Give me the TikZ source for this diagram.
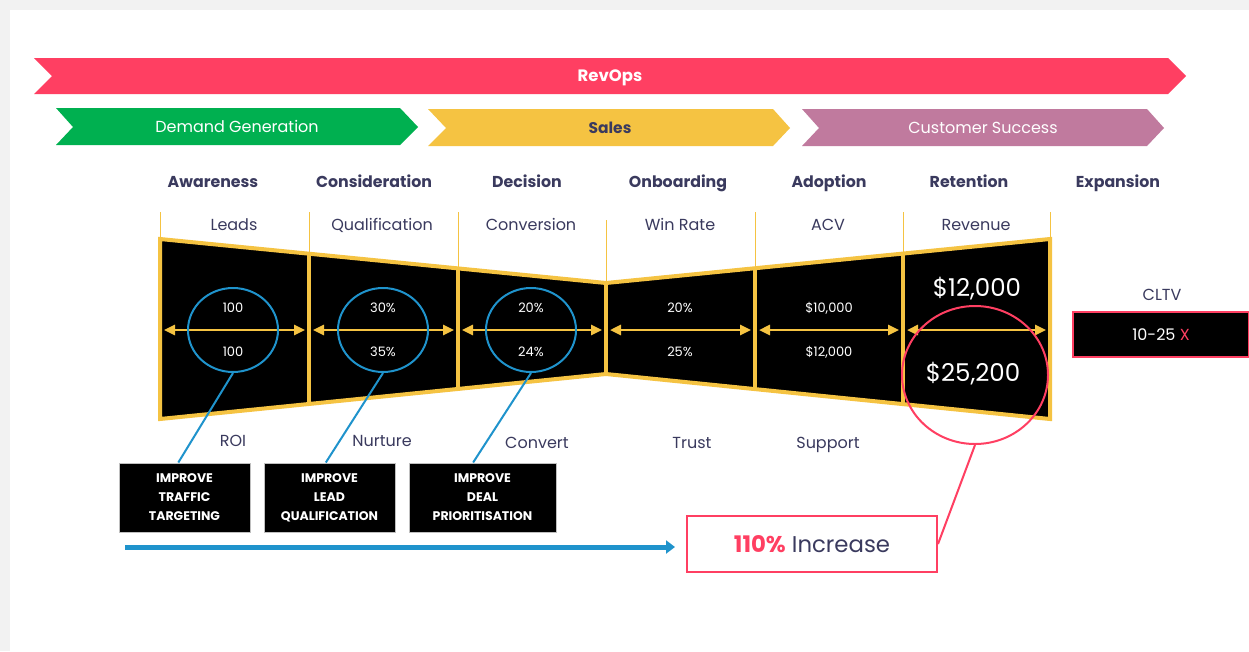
\documentclass[tikz,border=0pt]{standalone}
\usepackage{fontspec}
\setmainfont{Poppins}
\usetikzlibrary{arrows.meta,positioning,shapes.geometric,calc}
\definecolor{navy}{HTML}{3A3A5E}
\definecolor{revpink}{HTML}{FF3F62}
\definecolor{demgreen}{HTML}{00B050}
\definecolor{salesyellow}{HTML}{F5C342}
\definecolor{csmauve}{HTML}{C07A9E}
\definecolor{ringblue}{HTML}{1F93CC}
\definecolor{bggray}{HTML}{F2F2F2}

\begin{document}
\begin{tikzpicture}[x=1pt,y=-1pt,
  banner/.style={font=\fontsize{16}{18}\selectfont,text=white,text height=13.6pt,text depth=2.4pt},
  stage/.style={font=\fontsize{15.8}{18}\selectfont\bfseries,text=navy,text height=13.4pt,text depth=2.4pt},
  metric/.style={font=\fontsize{16}{18}\selectfont,text=navy,text height=13.6pt,text depth=2.4pt},
  val/.style={text=white,font=\fontsize{13}{15}\selectfont,text height=11pt,text depth=2pt},
  big val/.style={text=white,font=\fontsize{24.5}{27}\selectfont,text height=20.8pt,text depth=3.7pt},
  ring/.style={ellipse,draw=ringblue,line width=2pt,minimum width=90pt,minimum height=84pt,inner sep=0pt},
  tip box/.style={fill=black,draw=gray!50,line width=1pt,minimum width=131pt,minimum height=69pt,align=center,text=white,font=\fontsize{12.5}{19}\selectfont\bfseries},
  span/.style={{Triangle[length=11pt,width=10pt]}-{Triangle[length=11pt,width=10pt]},draw=salesyellow,line width=2.5pt},
  cell/.style={draw=salesyellow,line width=4pt},
  guide/.style={draw=salesyellow,line width=1pt}]
\useasboundingbox (0,0) rectangle (1249,651);
\fill[bggray] (0,0) rectangle (1249,651);
\fill[white] (10,10) rectangle (1249,651);

% banners
\fill[revpink] (34,58) -- (1168,58) -- (1186,76) -- (1168,94) -- (34,94) -- (52,76) -- cycle;
\fill[demgreen] (56,108) -- (400,108) -- (418,127) -- (400,145) -- (56,145) -- (73,127) -- cycle;
\fill[salesyellow] (428,109) -- (773,109) -- (790,128) -- (773,146) -- (428,146) -- (446,128) -- cycle;
\fill[csmauve] (802,109) -- (1147,109) -- (1164,128) -- (1147,146) -- (802,146) -- (819,128) -- cycle;
\node[banner,font=\fontsize{16.5}{18}\selectfont\bfseries] (revops) at (610,76) {RevOps};
\node[banner] (demand) at (237,127) {Demand Generation};
\node[banner,text=navy,font=\fontsize{15.5}{18}\selectfont\bfseries] (sales) at (610,128) {Sales};
\node[banner] (success) at (983,128) {Customer Success};

% stages
\node[stage] (awareness) at (213,182) {Awareness};
\node[stage] (consideration) at (374,182) {Consideration};
\node[stage] (decision) at (527,182) {Decision};
\node[stage] (onboarding) at (678,182) {Onboarding};
\node[stage] (adoption) at (829,182) {Adoption};
\node[stage] (retention) at (969,182) {Retention};
\node[stage] (expansion) at (1118,182) {Expansion};

\node[metric] (leads) at (234,225) {Leads};
\node[metric] (qualification) at (382,225) {Qualification};
\node[metric] (conversion) at (531,225) {Conversion};
\node[metric] (winrate) at (680,225) {Win Rate};
\node[metric] (acv) at (828,225) {ACV};
\node[metric] (revenue) at (976,225) {Revenue};

% funnel
\coordinate (t1) at (160,239); \coordinate (b1) at (160,419);
\coordinate (t2) at (309,254); \coordinate (b2) at (309,404);
\coordinate (t3) at (458,268); \coordinate (b3) at (458,389);
\coordinate (t4) at (606,283); \coordinate (b4) at (606,374);
\coordinate (t5) at (755,268); \coordinate (b5) at (755,389);
\coordinate (t6) at (903,254); \coordinate (b6) at (903,404);
\coordinate (t7) at (1050,239); \coordinate (b7) at (1050,419);
\draw[guide] (160,212) -- (t1);
\draw[guide] (309,212) -- (t2);
\draw[guide] (458,212) -- (t3);
\draw[guide] (606,220) -- (t4);
\draw[guide] (755,212) -- (t5);
\draw[guide] (903,212) -- (t6);
\draw[guide] (1050,212) -- (t7);
\filldraw[cell,fill=black,line join=miter] (t1) -- (t4) -- (t7) -- (b7) -- (b4) -- (b1) -- cycle;
\draw[cell] (t2) -- (b2);
\draw[cell] (t3) -- (b3);
\draw[cell] (t4) -- (b4);
\draw[cell] (t5) -- (b5);
\draw[cell] (t6) -- (b6);

\draw[span] (164,330) -- (305,330);
\draw[span] (313,330) -- (454,330);
\draw[span] (462,330) -- (602,330);
\draw[span] (610,330) -- (751,330);
\draw[span] (759,330) -- (899,330);
\draw[span] (907,330) -- (1046,330);

\node[val] (v1a) at (233,308) {100};
\node[val] (v1b) at (233,352) {100};
\node[val] (v2a) at (383,308) {30\%};
\node[val] (v2b) at (383,352) {35\%};
\node[val] (v3a) at (531,308) {20\%};
\node[val] (v3b) at (531,352) {24\%};
\node[val] (v4a) at (680,308) {20\%};
\node[val] (v4b) at (680,352) {25\%};
\node[val] (v5a) at (829,308) {\$10,000};
\node[val] (v5b) at (829,352) {\$12,000};
\node[big val] (v6a) at (977,288) {\$12,000};
\node[big val] (v6b) at (973,373) {\$25,200};

\node[ring] (ring1) at (233,330) {};
\node[ring] (ring2) at (383,330) {};
\node[ring] (ring3) at (531,330) {};
\node[ellipse,draw=revpink,line width=2pt,minimum width=146pt,minimum height=138pt] (pring) at (975,375) {};

\node[metric] (roi) at (233,441) {ROI};
\node[metric] (nurture) at (382,441) {Nurture};
\node[metric] (convert) at (537,443) {Convert};
\node[metric] (trust) at (692,443) {Trust};
\node[metric] (support) at (828,443) {Support};

% actions
\node[tip box] (tip1) at (184.5,497.5) {IMPROVE\\TRAFFIC\\TARGETING};
\node[tip box] (tip2) at (329.5,497.5) {IMPROVE\\LEAD\\QUALIFICATION};
\node[tip box,minimum width=147pt] (tip3) at (482.5,497.5) {IMPROVE\\DEAL\\PRIORITISATION};
\draw[ringblue,line width=2pt] (ring1.south) -- (tip1.100);
\draw[ringblue,line width=2pt] (ring2.south) -- (tip2.96);
\draw[ringblue,line width=2pt] (ring3.south) -- (tip3.105);

% result
\node[draw=revpink,line width=2pt,fill=white,minimum width=250pt,minimum height=56pt,font=\fontsize{22.8}{25}\selectfont,text=navy,text height=19.4pt,text depth=3.4pt] (inc) at (812,544) {\textcolor{revpink}{\bfseries 110\%} Increase};
\coordinate (flowstart) at (125,547);
\coordinate (flowend) at (675,547);
\draw[ringblue,line width=5pt,-{Triangle[length=9pt,width=13pt]}] (flowstart) -- (flowend);
\draw[revpink,line width=2pt] (pring.south) -- (inc.east);

\node[metric] (cltv) at (1162,295) {CLTV};
\node[fill=black,draw=revpink,line width=1.5pt,minimum width=176pt,minimum height=45pt,text=white,font=\fontsize{16}{18}\selectfont,text height=13.6pt,text depth=2.4pt] (mult) at (1161,334.5) {10-25 \textcolor{revpink}{X}};
\end{tikzpicture}
\end{document}
